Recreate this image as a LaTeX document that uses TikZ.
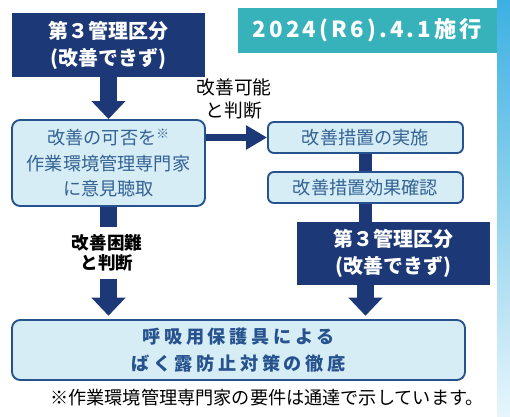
\documentclass[tikz,border=0pt]{standalone}
\usepackage{fontspec}
\setmainfont{Noto Sans CJK JP}
\usetikzlibrary{arrows.meta}
\definecolor{navy}{RGB}{28,56,118}
\definecolor{datecol}{RGB}{56,178,186}
\definecolor{boxfill}{RGB}{214,237,245}
\definecolor{boxline}{RGB}{38,82,142}
\definecolor{boxtext}{RGB}{52,98,148}
\definecolor{stripcol}{RGB}{60,176,226}
\begin{document}
\begin{tikzpicture}[
  darkbox/.style={fill=navy, text=white, inner sep=0pt, align=center, font=\bfseries\fontsize{17}{23}\selectfont},
  lightbox/.style={draw=boxline, line width=1.6pt, fill=boxfill, rounded corners=7pt, text=boxtext, inner sep=0pt, align=center, font=\fontsize{15.5}{22}\selectfont},
  remark/.style={inner sep=0pt, align=center},
  bigarrow/.style={draw=navy, line width=0.51cm, -{Triangle[width=0.99cm,length=0.54cm]}},
  bar/.style={draw=navy, line width=0.38cm}]
  \useasboundingbox (0,0) rectangle (15.3,-12.51);
  \shade[top color=stripcol, bottom color=stripcol!12] (14.91,0) rectangle (15.3,-12.51);

  \node[darkbox, minimum width=5.79cm, minimum height=1.92cm] (top3) at (3.255,-1.35) {第３管理区分\\(改善できず)};
  \node[fill=datecol, text=white, minimum width=7.77cm, minimum height=1.35cm, font=\bfseries\fontsize{19}{20}\selectfont\addfontfeature{LetterSpace=14}] (date) at (11.025,-0.915) {2024(R6).4.1施行};
  \node[lightbox, minimum width=5.79cm, minimum height=2.58cm] (ask) at (3.255,-4.89) {改善の可否を\textsuperscript{※}\\作業環境管理専門家\\に意見聴取};
  \node[remark, font=\fontsize{16}{19}\selectfont] (okay) at (7.02,-2.97) {改善可能\\と判断};
  \node[lightbox, rounded corners=5pt, minimum width=5.85cm, minimum height=0.93cm] (impl) at (10.965,-4.125) {改善措置の実施};
  \node[lightbox, rounded corners=5pt, minimum width=5.85cm, minimum height=0.93cm] (check) at (10.965,-5.625) {改善措置効果確認};
  \node[darkbox, minimum width=5.79cm, minimum height=1.89cm] (right3) at (11.805,-7.605) {第３管理区分\\(改善できず)};
  \node[remark, minimum height=1.53cm, font=\bfseries\fontsize{15}{17.5}\selectfont] (hard) at (3.21,-7.59) {改善困難\\と判断};
  \node[lightbox, minimum width=13.59cm, minimum height=1.8cm, text=boxline, font=\bfseries\fontsize{15.5}{23}\selectfont\addfontfeature{LetterSpace=20}] (bottom) at (7.155,-10.5) {呼吸用保護具による\\ばく露防止対策の徹底};
  \node[remark, font=\fontsize{15.5}{18}\selectfont] (note) at (8.01,-11.94) {※作業環境管理専門家の要件は通達で示しています。};

  \draw[bigarrow] (top3.south) -- (ask.north);
  \draw[navy, line width=0.21cm, -{Triangle[width=0.69cm,length=0.63cm]}] (ask.east |- impl.west) -- (impl.west);
  \draw[bar] (impl.south) -- (check.north);
  \draw[bar] (check.south) -- (check.south |- right3.north);
  \draw[bigarrow, shorten >=0.1cm] (check.south |- right3.south) -- (check.south |- bottom.north);
  \draw[navy, line width=0.51cm] (ask.south) -- (ask.south |- hard.north);
  \draw[bigarrow, shorten >=0.1cm] (ask.south |- hard.south) -- (ask.south |- bottom.north);
\end{tikzpicture}
\end{document}
